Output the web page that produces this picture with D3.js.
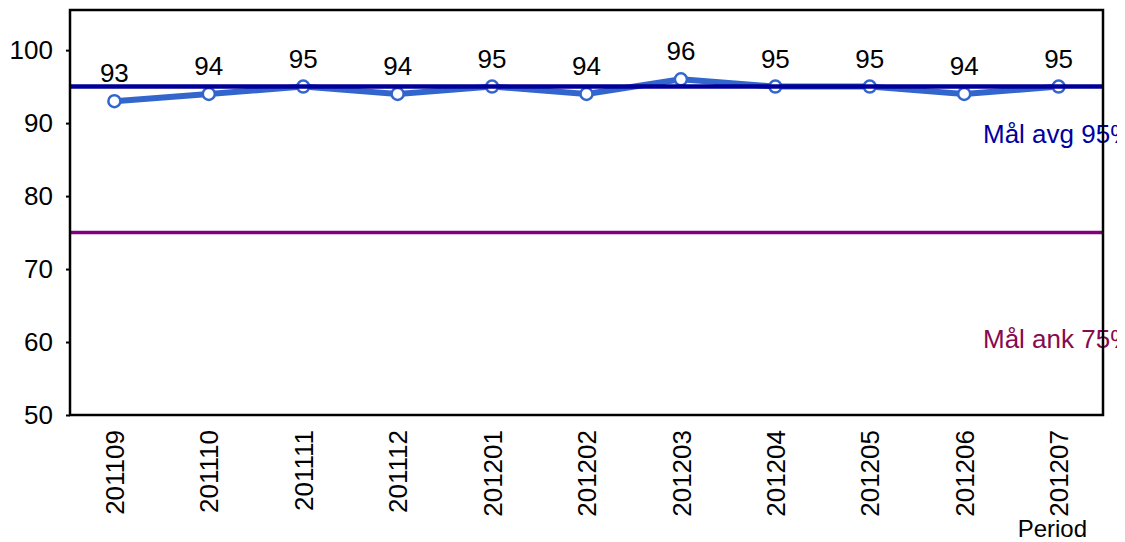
<!DOCTYPE html>
<html>
<head>
<meta charset="utf-8">
<script src="https://cdn.jsdelivr.net/npm/d3@7"></script>
<style>
    body { margin: 0; background: #fff; }
    svg { display: block; font-family: "Liberation Sans", Arial, sans-serif; }
</style>
</head>
<body>
<svg id="chart"></svg>
<script>
// chart data
const periods = ['201109', '201110', '201111', '201112', '201201', '201202',
    '201203', '201204', '201205', '201206', '201207'];
const values = [93, 94, 95, 94, 95, 94, 96, 95, 95, 94, 95];
const yTicks = [50, 60, 70, 80, 90, 100];
const goalValues = [95, 75];
const goalNames = ['Mål avg 95%', 'Mål ank 75%'];
const goalLabelValues = [87.3, 59.2];

const config = {
    width: 1125,
    height: 542,
    margin: { top: 10, right: 22, bottom: 127, left: 70 },
    fontSize: '26px'
};

const boundedWidth = config.width - config.margin.left - config.margin.right;
const boundedHeight = config.height - config.margin.top - config.margin.bottom;

const svg = d3.select('#chart')
    .attr('width', config.width)
    .attr('height', config.height);

// clip so the goal labels get cut off like in the original
svg.append('defs').append('clipPath')
    .attr('id', 'clip')
    .append('rect')
    .attr('x', 0).attr('y', 0)
    .attr('width', boundedWidth + 14).attr('height', boundedHeight);

const bounds = svg.append('g')
    .attr('transform', `translate(${config.margin.left}, ${config.margin.top})`);

// scales
const xScale = d3.scalePoint()
    .domain(periods)
    .range([0, boundedWidth])
    .padding(0.47);

const yScale = d3.scaleLinear()
    .domain([50, 105.5])
    .range([boundedHeight, 0]);

// series line
const line = d3.line()
    .x((d, i) => xScale(periods[i]))
    .y(d => yScale(d));

bounds.append('path')
    .datum(values)
    .attr('d', line)
    .attr('fill', 'none')
    .attr('stroke', '#3366cc')
    .attr('stroke-width', 6)
    .attr('stroke-linejoin', 'round');

bounds.selectAll('.dot')
    .data(values)
    .join('circle')
    .attr('class', 'dot')
    .attr('cx', (d, i) => xScale(periods[i]))
    .attr('cy', d => yScale(d))
    .attr('r', 6)
    .attr('fill', '#fff')
    .attr('stroke', '#3366cc')
    .attr('stroke-width', 2.5);

// goal lines (drawn over the series)
const goalColors = ['#000099', '#800080'];
const goalTextColors = ['#0000a0', '#850a50'];
const goalWidths = [4.5, 3.5];

bounds.selectAll('.goal')
    .data(goalValues)
    .join('line')
    .attr('class', 'goal')
    .attr('x1', 0)
    .attr('x2', boundedWidth)
    .attr('y1', d => yScale(d))
    .attr('y2', d => yScale(d))
    .attr('stroke', (d, i) => goalColors[i])
    .attr('stroke-width', (d, i) => goalWidths[i]);

bounds.append('g')
    .attr('clip-path', 'url(#clip)')
    .selectAll('text')
    .data(goalNames)
    .join('text')
    .attr('x', boundedWidth - 120)
    .attr('y', (d, i) => yScale(goalLabelValues[i]))
    .attr('fill', (d, i) => goalTextColors[i])
    .style('font-size', config.fontSize)
    .text(d => d);

// data labels
bounds.selectAll('.value-label')
    .data(values)
    .join('text')
    .attr('class', 'value-label')
    .attr('x', (d, i) => xScale(periods[i]))
    .attr('y', d => yScale(d) - 19)
    .attr('text-anchor', 'middle')
    .style('font-size', config.fontSize)
    .attr('fill', '#000')
    .text(d => d);

// y axis
const yAxis = d3.axisLeft(yScale)
    .tickValues(yTicks)
    .tickSize(4)
    .tickPadding(13);

const yAxisG = bounds.append('g').call(yAxis);
yAxisG.select('.domain').remove();
yAxisG.selectAll('line').attr('stroke', '#000').attr('stroke-width', 2);
yAxisG.selectAll('text')
    .style('font-size', config.fontSize)
    .style('font-family', '"Liberation Sans", Arial, sans-serif')
    .attr('fill', '#000');

// x axis (rotated labels, no ticks)
const xAxis = d3.axisBottom(xScale).tickSize(0);
const xAxisG = bounds.append('g')
    .attr('transform', `translate(0, ${boundedHeight})`)
    .call(xAxis);
xAxisG.select('.domain').remove();
xAxisG.selectAll('text')
    .style('font-size', config.fontSize)
    .style('font-family', '"Liberation Sans", Arial, sans-serif')
    .attr('fill', '#000')
    .attr('text-anchor', 'end')
    .attr('transform', 'rotate(-90)')
    .attr('x', -15)
    .attr('y', 0)
    .attr('dy', '0.35em');

// frame
bounds.append('rect')
    .attr('width', boundedWidth)
    .attr('height', boundedHeight)
    .attr('fill', 'none')
    .attr('stroke', '#000')
    .attr('stroke-width', 2.5);

// axis title
svg.append('text')
    .attr('x', 1087)
    .attr('y', 537)
    .attr('text-anchor', 'end')
    .style('font-size', '24px')
    .text('Period');
</script>
</body>
</html>
